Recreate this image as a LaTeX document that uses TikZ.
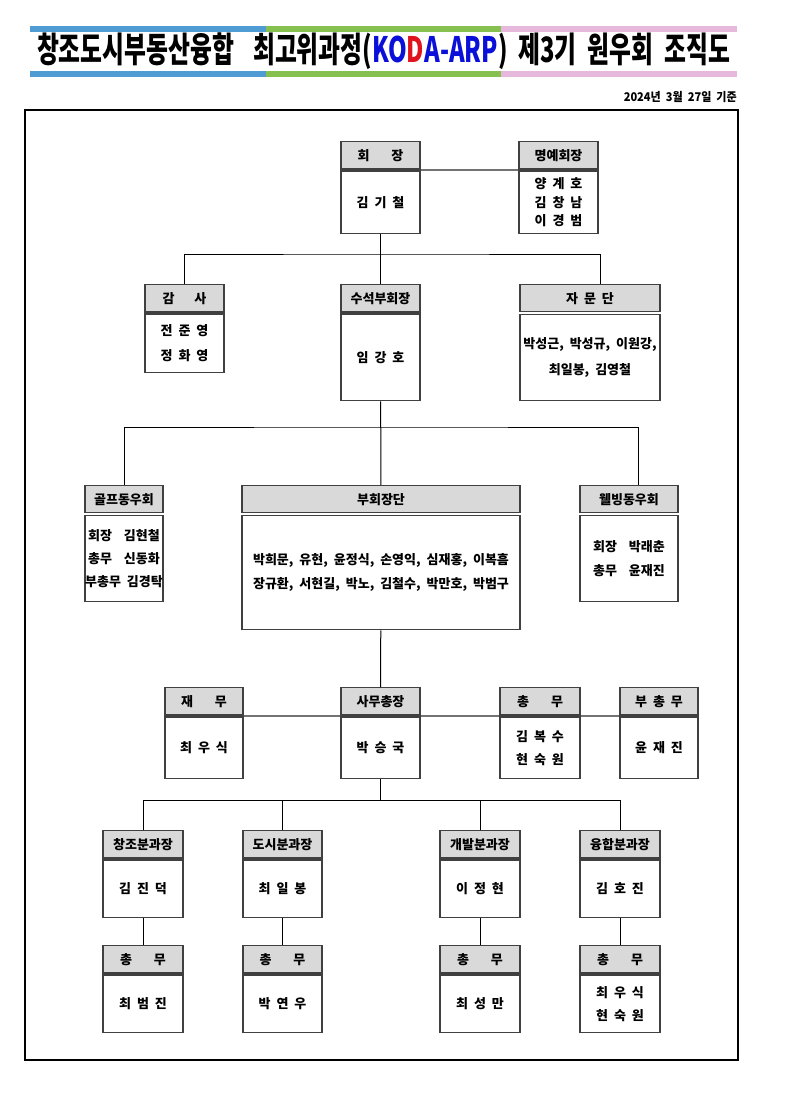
\documentclass[tikz,border=0pt]{standalone}
\usepackage{fontspec}
\setmainfont{Noto Sans CJK KR}[WordSpace=2]
\usepackage{xcolor}
\usepackage{tikz}
\usetikzlibrary{positioning}
\definecolor{cBarB}{HTML}{4F9CD4}
\definecolor{cBarG}{HTML}{86C14F}
\definecolor{cBarP}{HTML}{E6B9DC}
\definecolor{cHead}{HTML}{D9D9D9}
\definecolor{cEdge}{HTML}{404040}
\definecolor{cTitleB}{HTML}{0A10D8}
\definecolor{cTitleR}{HTML}{E0141E}
\tikzset{
  hd/.style   = {rectangle, draw=cEdge, fill=cHead, line width=1.2pt, minimum height=28pt,
                 inner sep=0pt, anchor=north, font=\bfseries\fontsize{13}{16}\selectfont},
  bd/.style   = {rectangle, draw=cEdge, fill=white, line width=1.2pt, inner sep=0pt,
                 align=center, font=\bfseries\fontsize{13}{24}\selectfont},
  bar/.style  = {draw=cEdge, line width=3.5pt},
  dbar/.style = {draw=cEdge, double=white, line width=1pt, double distance=1.5pt},
  ln/.style   = {draw=black, line width=1pt},
  lng/.style  = {draw=black!55, line width=2.4pt},
}
% header + body box: [bar style]{name}{top centre}{width}{body height}{head}{body}
\newcommand{\orgbox}[7][bar]{%
  \node[hd, minimum width=#4] (#2h) at (#3) {#6};
  \node[bd, minimum width=#4, minimum height=#5, below=0pt of #2h] (#2) {#7};
  \draw[#1] (#2h.south west) -- (#2h.south east);}

\begin{document}
\begin{tikzpicture}[x=1pt, y=-1pt]
  \useasboundingbox (0,0) rectangle (795,1120);

  % title bars
  \fill[cBarB] (30,26) rectangle (266,32);
  \fill[cBarG] (266,26) rectangle (501,32);
  \fill[cBarP] (501,26) rectangle (737,32);
  \fill[cBarB] (30,71) rectangle (266,77);
  \fill[cBarG] (266,71) rectangle (501,77);
  \fill[cBarP] (501,71) rectangle (737,77);
  \node[font=\bfseries\fontsize{35}{35}\selectfont] (title) at (383.5,51)
    {\scalebox{0.68}[1]{창조도시부동산융합\hspace{12pt} 최고위과정(\textcolor{cTitleB}{KO}\textcolor{cTitleR}{D}\textcolor{cTitleB}{A-ARP}) 제3기 원우회 조직도}};
  \node[anchor=east, inner sep=0pt, font=\bfseries\fontsize{12}{12}\selectfont] (date) at (737,97)
    {\scalebox{0.92}[1]{2024년 3월 27일 기준}};

  \draw[line width=1.3pt] (25,110) rectangle (738,1060);

  % boxes
  \orgbox{hj}{380.5,141}{79}{63}{회\hspace{22pt}장}{김 기 철}
  \orgbox{my}{558.5,141}{79}{63}{명예회장}{양 계 호\\[-5.5pt]김 창 남\\[-5.5pt]이 경 범}

  \orgbox{gs}{184.5,284}{79}{59}{감\hspace{20pt}사}{전 준 영\\[1pt]정 화 영}
  \orgbox{ss}{380.5,284}{79}{87}{수석부회장}{임 강 호}
  \orgbox[dbar]{ja}{590,284}{140}{87}{자 문 단}{박성근, 박성규, 이원강,\\[2pt]최일봉, 김영철}

  \orgbox[dbar]{gp}{124,485}{78}{87}{골프동우회}{회장\ \ 김현철\\[-1pt]총무\ \ 신동화\\[-1pt]부총무 김경탁}
  \orgbox[dbar]{bh}{381,485}{278}{115}{부회장단}{박희문, 유현, 윤정식, 손영익, 심재홍, 이복흠\\장규환, 서현길, 박노, 김철수, 박만호, 박범구}
  \orgbox[dbar]{wb}{629,485}{98}{87}{웰빙동우회}{회장\ \ 박래춘\\총무\ \ 윤재진}

  \orgbox{jm}{204,687}{78}{62}{재\hspace{22pt}무}{최 우 식}
  \orgbox{sm}{380.5,687}{79}{62}{사무총장}{박 승 국}
  \orgbox{cm}{540,687}{80}{62}{총\hspace{22pt}무}{김 복 수\\[-1pt]현 숙 원}
  \orgbox{bc}{659,687}{78}{62}{부 총 무}{윤 재 진}

  \orgbox{ca}{143,830}{80}{58}{창조분과장}{김 진 덕}
  \orgbox{ds}{282.5,830}{79}{58}{도시분과장}{최 일 봉}
  \orgbox{gb}{480,830}{80}{58}{개발분과장}{이 정 현}
  \orgbox{yh}{620,830}{80}{58}{융합분과장}{김 호 진}

  \orgbox{t1}{143,945}{80}{58}{총\hspace{22pt}무}{최 범 진}
  \orgbox{t2}{282.5,945}{79}{58}{총\hspace{22pt}무}{박 연 우}
  \orgbox{t3}{480,945}{80}{58}{총\hspace{22pt}무}{최 성 만}
  \orgbox{t4}{620,945}{80}{58}{총\hspace{22pt}무}{최 우 식\\[-1pt]현 숙 원}

  % connectors
  \coordinate (bus1) at (380.5,254);
  \coordinate (bus2) at (380.5,427);
  \coordinate (bus3) at (380.5,800);

  \draw[lng] (hjh.south east) -- (myh.south west);
  \draw[ln] (hj) -- (ssh);
  \draw[ln] (gsh.north) |- (bus1) -| ([xshift=10pt]jah.north);

  \draw[ln] (ss) -- (bhh);
  \draw[ln] (gph.north) |- (bus2) -| ([xshift=9pt]wbh.north);

  \draw[ln] (bh) -- (smh);
  \draw[lng] (jmh.south east) -- (smh.south west);
  \draw[lng] (smh.south east) -- (cmh.south west);
  \draw[lng] (cmh.south east) -- (bch.south west);

  \draw[ln] (sm) -- (bus3);
  \draw[ln] (cah.north) |- (bus3) -| (yhh.north);
  \draw[ln] (dsh.north) -- (dsh.north |- bus3);
  \draw[ln] (gbh.north) -- (gbh.north |- bus3);

  \foreach \a/\b in {ca/t1, ds/t2, gb/t3, yh/t4}
    \draw[ln] (\a) -- (\b h);
\end{tikzpicture}
\end{document}
